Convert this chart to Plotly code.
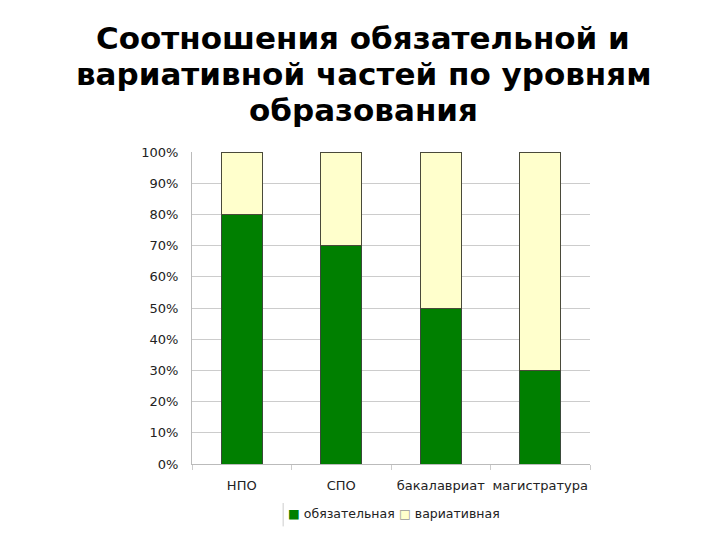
import plotly.graph_objects as go

# data
levels = ['НПО', 'СПО', 'бакалавриат', 'магистратура']
mandatory = [80, 70, 50, 30]
variable = [20, 30, 50, 70]
y_ticks = [0, 10, 20, 30, 40, 50, 60, 70, 80, 90, 100]
title_lines = ['Соотношения обязательной и',
               'вариативной частей по уровням',
               'образования']
series_names = ['обязательная', 'вариативная']
series_colors = ['#007f00', '#ffffcc']

fig = go.Figure()
fig.add_trace(go.Bar(x=levels, y=mandatory, name=series_names[0],
                     marker_color=series_colors[0],
                     marker_line=dict(color='#3a4a3a', width=1)))
fig.add_trace(go.Bar(x=levels, y=variable, name=series_names[1],
                     marker_color=series_colors[1],
                     marker_line=dict(color='#4a4a3a', width=1)))

# title as three lines placed above the plot
for i, line in enumerate(title_lines):
    fig.add_annotation(text='<b>' + line + '</b>', xref='paper', yref='paper',
                       x=0.43, y=1 + (114 - 36 * i) / 312,
                       xanchor='center', yanchor='middle', showarrow=False,
                       font=dict(family='DejaVu Sans', size=31, color='black'))

# compact legend: square glyph + name
legend_x = [0.236, 0.515]
for name, color, lx in zip(series_names, series_colors, legend_x):
    fig.add_annotation(text=f'<span style="color:{color}">■</span> {name}',
                       xref='paper', yref='paper', x=lx, y=-0.16,
                       xanchor='left', yanchor='middle', showarrow=False,
                       font=dict(family='DejaVu Sans', size=12.5, color='#222222'))
# outline for the pale square
fig.add_annotation(text='□', xref='paper', yref='paper', x=legend_x[1], y=-0.16,
                   xanchor='left', yanchor='middle', showarrow=False,
                   font=dict(family='DejaVu Sans', size=12.5, color='#999999'))

# thin left edge of the legend box
fig.add_shape(type='line', xref='paper', yref='paper',
              x0=0.229, x1=0.229, y0=-0.125, y1=-0.2,
              line=dict(color='#cccccc', width=1))

# page has an 8px body margin, so margins are set 8px smaller on left/top
fig.update_layout(
    width=720, height=540,
    barmode='stack',
    bargap=0.588,
    paper_bgcolor='white',
    plot_bgcolor='white',
    font=dict(family='DejaVu Sans', color='#222222'),
    margin=dict(l=184, r=138, t=144, b=84, autoexpand=False),
    showlegend=False,
    xaxis=dict(
        showgrid=False, showline=True, linecolor='#bbbbbb',
        ticks='outside', tickson='boundaries', ticklen=5, tickcolor='#cccccc',
        tickfont=dict(size=13), tickangle=0, ticklabelstandoff=9, automargin=False
    ),
    yaxis=dict(
        range=[0, 100], tickvals=y_ticks,
        ticktext=[f'{v}%' for v in y_ticks],
        showgrid=True, gridcolor='#cccccc', gridwidth=1,
        showline=True, linecolor='#bbbbbb',
        tickfont=dict(size=13), ticks='', ticklabelstandoff=10, automargin=False
    )
)

fig.write_html('out.html')
